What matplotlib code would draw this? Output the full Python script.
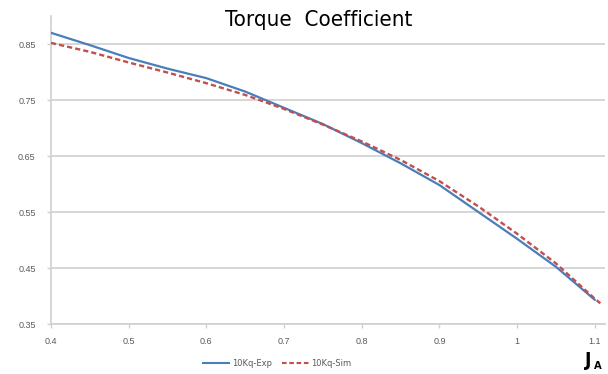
import matplotlib
matplotlib.use("Agg")
import matplotlib.pyplot as plt
from matplotlib.lines import Line2D
from matplotlib import font_manager

# Advance coefficient J_A and measured / simulated 10Kq
j_exp = [0.40, 0.45, 0.50, 0.55, 0.60, 0.65, 0.70, 0.75, 0.80, 0.85, 0.90, 0.95, 1.00, 1.05, 1.10]
kq_exp = [0.870, 0.848, 0.825, 0.806, 0.789, 0.765, 0.736, 0.707, 0.673, 0.637, 0.598, 0.550, 0.502, 0.452, 0.393]

j_sim = [0.40, 0.45, 0.50, 0.55, 0.60, 0.65, 0.70, 0.75, 0.80, 0.85, 0.90, 0.95, 1.00, 1.05, 1.10, 1.107]
kq_sim = [0.852, 0.836, 0.817, 0.799, 0.780, 0.759, 0.734, 0.706, 0.676, 0.643, 0.605, 0.560, 0.511, 0.458, 0.395, 0.387]

x_ticks = [0.4, 0.5, 0.6, 0.7, 0.8, 0.9, 1.0, 1.1]
x_tick_labels = ["0.4", "0.5", "0.6", "0.7", "0.8", "0.9", "1", "1.1"]
y_ticks = [0.35, 0.45, 0.55, 0.65, 0.75, 0.85]
y_tick_labels = ["0.35", "0.45", "0.55", "0.65", "0.75", "0.85"]

series_names = ["10Kq-Exp", "10Kq-Sim"]
title = "Torque  Coefficient"

BLUE = "#4a7ebb"
RED = "#c0504d"
GRID = "#d0d0d0"
TXT = "#595959"

# condensed faces for the heading and the axis symbol
cond_path = font_manager.findfont(
    font_manager.FontProperties(family="DejaVu Sans", stretch="condensed"))
bold_path = font_manager.findfont(
    font_manager.FontProperties(family="DejaVu Sans", stretch="condensed", weight="bold"))

W, H = 608, 374
fig = plt.figure(figsize=(W / 100, H / 100), dpi=100)
ax = fig.add_axes([51 / W, (H - 324) / H, (605 - 51) / W, (324 - 16) / H])

ax.plot(j_exp, kq_exp, color=BLUE, lw=1.6, solid_capstyle="round", zorder=3)
ax.plot(j_sim, kq_sim, color=RED, lw=1.7, linestyle=(0, (2.2, 1.3)), zorder=3)

ax.set_xlim(0.4, 1.113)
ax.set_ylim(0.35, 0.90)
ax.set_xticks(x_ticks)
ax.set_xticklabels(x_tick_labels)
ax.set_yticks(y_ticks)
ax.set_yticklabels(y_tick_labels)
ax.tick_params(axis="both", colors=GRID, labelcolor=TXT, labelsize=6.5,
               length=3, width=1)
ax.tick_params(axis="x", pad=6)
ax.tick_params(axis="y", pad=8)
for lab in ax.get_xticklabels() + ax.get_yticklabels():
    lab.set_fontfamily(["Liberation Sans", "DejaVu Sans"])

ax.grid(axis="y", color=GRID, lw=1.2)
ax.set_axisbelow(True)
for side in ("top", "right"):
    ax.spines[side].set_visible(False)
for side in ("left", "bottom"):
    ax.spines[side].set_color(GRID)
    ax.spines[side].set_linewidth(1.2)

fig.text(319 / W, 1 - 20 / H, title, ha="center", va="center", color="black",
         fontproperties=font_manager.FontProperties(fname=cond_path, size=16))

handles = [Line2D([], [], color=BLUE, lw=1.5),
           Line2D([], [], color=RED, lw=1.5, linestyle=(0, (2.2, 1.3)))]
fig.legend(handles, series_names, loc="center", bbox_to_anchor=(277 / W, 1 - 363 / H),
           ncol=2, frameon=False, fontsize=6, handlelength=3.2, handletextpad=0.3,
           columnspacing=1.2, labelcolor=TXT)

fig.text(585 / W, 1 - 360 / H, "J", ha="left", va="center",
         fontproperties=font_manager.FontProperties(fname=bold_path, size=14))
fig.text(594 / W, 1 - 366 / H, "A", ha="left", va="center",
         fontproperties=font_manager.FontProperties(fname=bold_path, size=8))

fig.savefig("out.png", dpi=100)
